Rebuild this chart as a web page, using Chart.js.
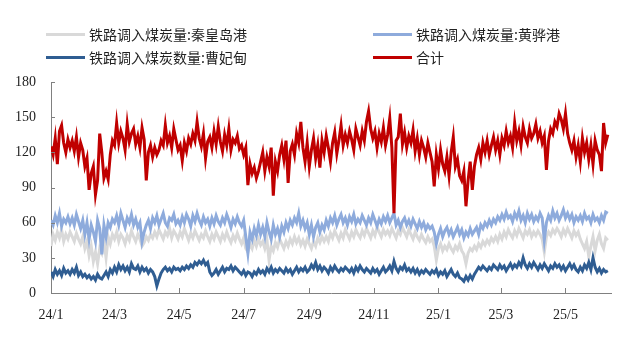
<!DOCTYPE html>
<html>
<head>
<meta charset="utf-8">
<script src="https://cdn.jsdelivr.net/npm/chart.js@4/dist/chart.umd.min.js"></script>
<style>
  html, body { margin: 0; padding: 0; background: #fff; }
  #wrap { position: relative; width: 618px; height: 348px; }
  canvas { position: absolute; left: 0; top: 0; }
  .lg { position: absolute; height: 20px; display: flex; align-items: center;
        font-family: "Noto Sans CJK SC", "Noto Sans", sans-serif; font-size: 14px; color: #222; white-space: nowrap; }
  .lg i { display: inline-block; width: 39px; height: 3px; margin-right: 4px; }
</style>
</head>
<body>
<div id="wrap">
  <canvas id="chart" width="618" height="348"></canvas>
  <div id="legend"></div>
</div>
<script>
// x axis: days since 2024-01-01, one point every 2 days
const startDay = 0;
const stepDays = 2;
const axisMaxDay = 529;
const tickDays = [0, 60, 121, 182, 244, 305, 366, 425, 486];
const tickLabels = ['24/1', '24/3', '24/5', '24/7', '24/9', '24/11', '25/1', '25/3', '25/5'];

const seriesNames = ['铁路调入煤炭量:秦皇岛港', '铁路调入煤炭量:黄骅港', '铁路调入煤炭数量:曹妃甸', '合计'];

// 铁路调入煤炭量:秦皇岛港
const qhd = [
  40,50,45,52,47,54,44,50,46,52, 48,44,51,46,42,48,38,44,32,40,
  27,35,25,38,34,44,30,48,42,50, 46,52,44,50,47,42,49,45,53,48,
  44,50,46,40,43,48,45,50,47,52, 48,54,50,46,52,49,55,47,53,50,
  46,52,48,55,50,45,51,47,53,49, 45,50,47,53,48,44,50,46,52,48,
  44,50,46,52,47,43,49,45,51,46, 42,47,38,35,42,38,45,40,46,41,
  44,38,45,28,40,36,43,39,46,42, 38,44,40,46,42,48,43,47,41,45,
  40,46,42,38,44,40,47,43,48,44, 48,44,51,47,53,49,45,51,47,54,
  50,46,52,48,54,50,47,53,49,55, 51,47,53,49,56,52,48,54,50,53,
  49,55,51,47,53,50,56,52,48,54, 50,46,52,48,45,50,46,43,48,44,
  46,40,28,38,42,36,40,37,42,38, 35,40,37,42,36,33,25,34,38,36,
  40,37,42,39,44,41,45,42,47,44, 48,44,50,46,52,48,54,50,47,53,
  49,55,51,47,53,50,54,48,52,49, 53,50,46,35,48,52,49,54,51,55,
  52,48,54,50,55,51,47,53,49,52, 46,42,38,44,31,40,48,36,45,50,
  42,38,47,45
];

// 铁路调入煤炭量:黄骅港
const hhg = [
  62,58,66,60,68,57,63,60,65,59, 64,58,67,61,55,62,50,60,46,58,
  52,44,62,55,33,58,48,60,56,63, 60,66,58,68,62,56,64,60,67,58,
  63,56,60,44,52,58,62,55,64,60, 66,58,63,68,60,57,64,62,67,59,
  62,58,65,60,67,63,57,66,61,68, 62,58,65,60,63,57,64,59,66,61,
  58,64,60,67,62,56,63,59,65,60, 57,62,48,34,52,46,55,49,58,50,
  56,48,60,52,46,58,50,55,48,57, 52,60,55,62,58,64,60,68,57,62,
  55,60,50,58,48,56,60,52,58,54, 62,57,64,60,66,58,63,67,60,64,
  58,65,61,67,59,63,60,66,62,58, 64,60,67,62,57,63,59,65,61,66,
  60,64,68,58,62,56,61,64,58,62, 57,63,59,55,61,56,60,54,58,55,
  57,52,42,50,55,48,53,56,50,54, 48,52,56,50,54,47,52,49,55,50,
  53,56,50,58,55,60,57,62,58,63, 60,65,62,67,63,69,64,66,61,68,
  64,70,62,66,60,68,63,67,61,65, 62,68,64,45,60,66,62,70,64,68,
  62,66,71,64,68,63,67,60,65,62, 66,61,68,63,65,60,67,62,64,60,
  66,62,69,68
];

// 铁路调入煤炭数量:曹妃甸
const cfd = [
  18,14,20,16,19,15,21,17,19,16, 20,17,22,15,18,14,16,13,15,12,
  14,11,16,13,12,15,18,14,20,17, 22,18,24,20,23,19,22,18,25,21,
  20,23,18,22,19,21,17,20,18,14,  6,12,17,20,22,19,21,18,22,20,
  21,19,22,20,23,21,24,22,26,24, 27,25,28,24,26,18,15,17,20,16,
  19,22,18,21,20,23,19,22,20,18, 16,19,15,18,17,14,18,16,20,17,
  19,16,21,18,22,17,20,18,21,19, 17,21,18,20,16,19,22,18,21,19,
  22,18,20,24,21,26,20,23,19,22, 20,17,22,19,23,20,18,21,19,22,
  20,18,21,17,22,19,23,20,18,21, 19,17,21,18,20,16,19,22,18,20,
  23,19,27,21,18,22,20,24,19,21, 18,21,17,20,16,19,17,20,18,16,
  19,17,20,15,18,16,19,14,17,20, 16,14,17,13,12,10,14,11,15,12,
  16,19,22,20,23,21,19,22,20,24, 22,20,24,21,23,19,22,25,21,24,
  22,26,23,30,24,21,25,22,26,23, 20,24,21,25,22,19,23,21,25,22,
  24,20,23,19,22,25,21,24,20,18, 22,19,24,21,26,20,30,22,18,21,
  17,20,18,19
];

// 合计
const total = [
  125,118,132,110,138,143,128,120,131,124, 130,121,133,116,128,122,108,115,88,102,
  108,84,96,136,120,98,104,97,118,130, 126,145,128,138,132,122,144,129,136,140,
  127,134,124,141,131,96,120,126,116,124, 118,122,130,126,143,128,134,124,140,131,
  122,126,113,128,121,132,127,136,130,146, 132,125,136,115,129,133,124,138,127,142,
  129,121,135,126,140,122,131,128,134,123, 126,118,124,92,110,102,107,98,104,112,
  120,104,116,108,124,83,112,104,118,126, 114,130,94,121,127,118,136,128,146,124,
  112,128,108,122,132,115,126,107,130,120, 134,124,112,128,137,119,130,143,126,135,
  128,138,131,122,140,133,126,138,130,146, 155,140,132,138,124,136,129,141,126,135,
  149,124,68,130,133,153,127,137,124,134, 128,139,121,132,118,130,124,116,128,120,
  112,91,118,106,122,110,104,116,100,120, 133,108,114,100,96,104,74,96,112,88,
  108,118,124,114,128,120,130,118,126,133, 122,130,118,132,126,138,128,134,124,145,
  130,138,126,142,133,128,140,132,136,144, 132,138,128,134,105,130,140,136,146,142,
  153,148,140,153,136,128,122,130,116,126, 112,132,120,128,114,126,110,130,122,118,
  104,145,128,135
];

const colors = ['#d9d9d9', '#8eabdc', '#2f5d92', '#c00000'];

const days = total.map((v, i) => startDay + i * stepDays);
const toPoints = arr => arr.map((v, i) => ({ x: days[i], y: v }));

// HTML legend, two columns
const legendPos = [
  { left: 46, top: 24 }, { left: 373, top: 24 },
  { left: 46, top: 47 }, { left: 373, top: 47 }
];
const legendEl = document.getElementById('legend');
seriesNames.forEach((name, i) => {
  const d = document.createElement('div');
  d.className = 'lg';
  d.style.left = legendPos[i].left + 'px';
  d.style.top = legendPos[i].top + 'px';
  d.innerHTML = '<i style="background:' + colors[i] + '"></i>' + name;
  legendEl.appendChild(d);
});

// small inward tick marks on both axes
const innerTicks = {
  id: 'innerTicks',
  afterDraw(chart) {
    const { ctx, chartArea, scales } = chart;
    ctx.save();
    ctx.strokeStyle = '#808080';
    ctx.lineWidth = 1;
    ctx.beginPath();
    scales.y.ticks.forEach(t => {
      const y = Math.round(scales.y.getPixelForValue(t.value)) + 0.5;
      ctx.moveTo(chartArea.left, y);
      ctx.lineTo(chartArea.left + 4, y);
    });
    scales.x.ticks.forEach(t => {
      const x = Math.round(scales.x.getPixelForValue(t.value)) + 0.5;
      ctx.moveTo(x, chartArea.bottom);
      ctx.lineTo(x, chartArea.bottom - 5);
    });
    ctx.stroke();
    ctx.restore();
  }
};

const ds = (label, data, color, order) => ({
  label: label,
  data: toPoints(data),
  borderColor: color,
  backgroundColor: color,
  borderWidth: 3,
  pointRadius: 0,
  tension: 0,
  order: order
});

new Chart(document.getElementById('chart'), {
  type: 'line',
  data: {
    datasets: [
      ds(seriesNames[3], total, colors[3], 0),
      ds(seriesNames[2], cfd, colors[2], 1),
      ds(seriesNames[1], hhg, colors[1], 2),
      ds(seriesNames[0], qhd, colors[0], 3)
    ]
  },
  options: {
    responsive: false,
    animation: false,
    events: [],
    layout: { padding: { top: 82, right: 7, left: 0, bottom: 0 } },
    plugins: {
      legend: { display: false },
      tooltip: { enabled: false }
    },
    scales: {
      x: {
        type: 'linear',
        min: 0,
        max: axisMaxDay,
        afterBuildTicks: scale => { scale.ticks = tickDays.map(v => ({ value: v })); },
        afterFit: scale => { scale.height = 55; },
        grid: { display: false, drawTicks: false },
        border: { display: true, color: '#808080', width: 1 },
        ticks: {
          autoSkip: false,
          maxRotation: 0,
          padding: 14,
          color: '#222',
          font: { family: 'Liberation Serif', size: 14 },
          callback: v => tickLabels[tickDays.indexOf(v)]
        }
      },
      y: {
        min: 0,
        max: 180,
        afterFit: scale => { scale.width = 51; },
        grid: { display: false, drawTicks: false },
        border: { display: true, color: '#808080', width: 1 },
        ticks: {
          stepSize: 30,
          padding: 15,
          color: '#222',
          font: { family: 'Liberation Serif', size: 14 }
        }
      }
    }
  },
  plugins: [innerTicks]
});
</script>
</body>
</html>
